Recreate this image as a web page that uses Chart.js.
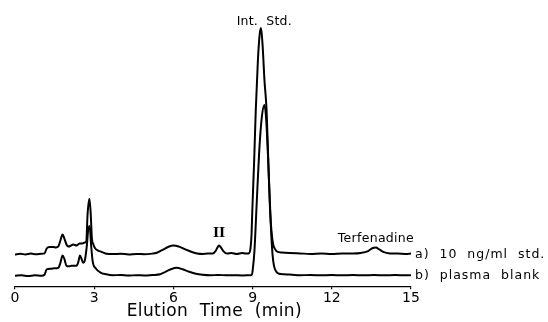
<!DOCTYPE html>
<html>
<head>
<meta charset="utf-8">
<script src="https://cdn.jsdelivr.net/npm/chart.js@4"></script>
<style>
  body { margin: 0; background: #fff; }
  canvas { display: block; }
</style>
</head>
<body>
<canvas id="chroma" width="548" height="322"></canvas>
<script>
// trace a) 10 ng/ml std. - time (min) and detector signal
var timeA = [0.0, 0.2, 0.4, 0.6, 0.8, 1.0, 1.12, 1.2, 1.3, 1.45, 1.55, 1.64, 1.72, 1.8, 1.87, 1.95, 2.02, 2.1, 2.2, 2.33,
  2.45, 2.55, 2.65, 2.7, 2.75, 2.82, 2.87, 2.91, 2.97, 3.04, 3.13, 3.23, 3.42, 3.7, 4.0, 4.3, 4.6, 4.9,
  5.2, 5.35, 5.55, 5.8, 6.0, 6.2, 6.45, 6.7, 6.9, 7.1, 7.3, 7.5, 7.6, 7.68, 7.73, 7.8, 7.9, 8.03, 8.2, 8.4,
  8.6, 8.75, 8.85, 8.92, 8.96, 8.99, 9.06, 9.12, 9.2, 9.27, 9.32, 9.38, 9.45, 9.53, 9.6, 9.66, 9.72, 9.78, 9.86, 9.95,
  10.1, 10.4, 10.8, 11.2, 11.6, 12.0, 12.4, 12.8, 13.1, 13.35, 13.55, 13.67, 13.8, 13.95, 14.2, 14.5, 14.8, 15.0];
var signalA = [0, 0.6, 0, 0.8, 0.2, 0.6, 1, 6, 7.5, 7.5, 7, 8, 14, 20, 16, 10, 8, 8.5, 10, 9,
  11, 11, 12, 13, 41, 56, 40, 17, 10, 6, 4, 3, 1, 0.3, 0.6, 0, 0.5, 0.2,
  0.8, 1.5, 4, 7.5, 9, 8, 5, 2.5, 1, 0.5, 0.8, 1, 3.5, 7.5, 9, 7, 3, 0.8, 1.5, 0.5,
  1.5, 0.8, 1, 6, 20, 45, 95, 145, 195, 222, 228, 210, 175, 145, 90, 45, 22, 10, 5, 2.5,
  2, 1.5, 1, 0.5, 1, 0.5, 1, 1, 1.5, 3, 6.5, 7, 5, 2.5, 1, 0.8, 0.5, 0.8];

// trace b) plasma blank
var timeB = [0.0, 0.25, 0.5, 0.75, 1.0, 1.12, 1.2, 1.35, 1.5, 1.64, 1.72, 1.8, 1.87, 1.95, 2.05, 2.14, 2.33, 2.4, 2.46, 2.52,
  2.58, 2.65, 2.72, 2.78, 2.83, 2.88, 2.94, 3.07, 3.26, 3.45, 3.7, 4.0, 4.3, 4.6, 4.9, 5.2, 5.5, 5.7,
  5.9, 6.13, 6.35, 6.6, 6.85, 7.1, 7.4, 7.7, 8.0, 8.3, 8.6, 8.9, 8.97, 9.0, 9.07, 9.15, 9.25, 9.35, 9.45, 9.52,
  9.6, 9.7, 9.76, 9.81, 9.9, 10.0, 10.2, 10.5, 10.8, 11.2, 11.6, 12.0, 12.4, 12.8, 13.2, 13.6, 14.0, 14.4, 14.8, 15.0];
var signalB = [0, 0.5, -0.3, 0.5, 0, 1, 6.5, 7, 7.5, 8, 13, 20.5, 17, 10, 9.5, 10, 10, 14, 20.5, 17,
  13, 16, 30, 48, 50, 32, 15, 7, 3, 1.5, 0.5, 0.8, 0.2, 0.6, 0.3, 0.8, 1.5, 4,
  6.5, 8, 6.5, 4, 2, 1, 0.5, 0.8, 0.5, 0.6, 0.3, 0.5, 1, 5, 25, 70, 125, 160, 172, 155,
  110, 45, 20, 10, 4, 2, 1.5, 1, 0.5, 0.8, 0.4, 0.8, 0.4, 0.7, 0.4, 0.7, 0.4, 0.7, 0.4, 0.6];

var xTicks = [0, 3, 6, 9, 12, 15];
var traceLabels = ['a)  10  ng/ml  std.', 'b)  plasma  blank'];
var offsetA = 21.5; // trace a is drawn above trace b

function toPoints(t, s, off) {
  return t.map(function(v, i) { return {x: v, y: s[i] + off}; });
}

var labelsPlugin = {
  id: 'peakLabels',
  afterDatasetsDraw: function(chart) {
    var ctx = chart.ctx, x = chart.scales.x, y = chart.scales.y;
    ctx.save();
    ctx.fillStyle = '#000';
    ctx.textBaseline = 'middle';

    ctx.font = '12.5px "DejaVu Sans"';
    ctx.textAlign = 'center';
    ctx.letterSpacing = '0.2px';
    ctx.fillText('Int.  Std.', x.getPixelForValue(9.44), y.getPixelForValue(255.5));
    ctx.font = '12.5px "DejaVu Sans"';
    ctx.letterSpacing = '0.3px';
    ctx.fillText('Terfenadine', x.getPixelForValue(13.67), y.getPixelForValue(37.5));
    ctx.font = 'bold 13px "DejaVu Serif"';
    ctx.letterSpacing = '0px';
    ctx.fillText('II', x.getPixelForValue(7.73), y.getPixelForValue(42.5));

    ctx.font = '12.5px "DejaVu Sans"';
    ctx.letterSpacing = '1px';
    ctx.textAlign = 'left';
    ctx.fillText(traceLabels[0], x.getPixelForValue(15) + 4, y.getPixelForValue(offsetA));
    ctx.fillText(traceLabels[1], x.getPixelForValue(15) + 4, y.getPixelForValue(0));

    ctx.font = '17px "DejaVu Sans"';
    ctx.letterSpacing = '0.4px';
    ctx.textAlign = 'center';
    ctx.fillText('Elution  Time  (min)', x.getPixelForValue(7.55), 312);
    ctx.restore();
  }
};

new Chart('chroma', {
  type: 'line',
  plugins: [labelsPlugin],
  data: {
    datasets: [
      {
        label: traceLabels[0],
        data: toPoints(timeA, signalA, offsetA),
        borderColor: '#000',
        borderWidth: 2,
        pointRadius: 0,
        cubicInterpolationMode: 'monotone',
        fill: false
      },
      {
        label: traceLabels[1],
        data: toPoints(timeB, signalB, 0),
        borderColor: '#000',
        borderWidth: 2,
        pointRadius: 0,
        cubicInterpolationMode: 'monotone',
        fill: false
      }
    ]
  },
  options: {
    responsive: false,
    animation: false,
    layout: { padding: { left: 15, right: 137, top: 22, bottom: 14 } },
    plugins: { legend: { display: false }, tooltip: { enabled: false } },
    scales: {
      x: {
        type: 'linear',
        min: 0,
        max: 15,
        afterBuildTicks: function(axis) {
          axis.ticks = xTicks.map(function(v) { return {value: v}; });
        },
        grid: { drawOnChartArea: false, tickLength: 3, color: '#000', lineWidth: 1.2 },
        border: { color: '#000', width: 1.2 },
        ticks: { padding: 1, color: '#000', font: { family: 'DejaVu Sans', size: 14 }, maxRotation: 0 }
      },
      y: {
        display: false,
        min: -10.5,
        max: 255.5
      }
    }
  }
});
</script>
</body>
</html>
